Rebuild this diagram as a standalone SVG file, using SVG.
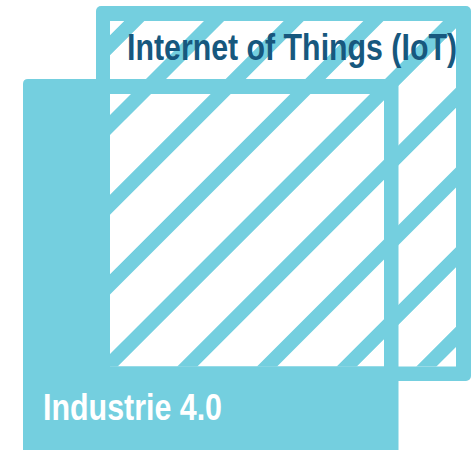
<svg xmlns="http://www.w3.org/2000/svg" width="471" height="450" viewBox="0 0 471 450">
  <defs>
    <style>
      .blue { fill: #74cfdf; }
      .hatch { stroke: #74cfdf; stroke-width: 14.2; fill: none; }
      .label { font-family: "Liberation Sans", Arial, sans-serif; font-weight: bold; font-size: 37px; }
    </style>
    <clipPath id="iotInner">
      <rect x="110" y="21" width="346" height="345.5"/>
    </clipPath>
  </defs>
  <g id="iot">
    <rect class="blue" x="96" y="6" width="375" height="375" rx="5"/>
    <rect x="110" y="21" width="346" height="345.5" fill="#ffffff"/>
    <g clip-path="url(#iotInner)">
      <path class="hatch" d="M-244.7,400 L155.3,0 M-165,400 L235,0 M-85.3,400 L314.7,0 M-5.6,400 L394.4,0 M74.1,400 L474.1,0 M153.8,400 L553.8,0 M233.5,400 L633.5,0 M313.2,400 L713.2,0 M392.9,400 L792.9,0"/>
    </g>
    <text class="label" x="127" y="60" fill="#17587e" textLength="330" lengthAdjust="spacingAndGlyphs">Internet of Things (IoT)</text>
  </g>
  <g id="industrie">
    <path class="blue" fill-rule="evenodd" d="M28,79 H393.5 Q398.5,79 398.5,84 V456 H23 V84 Q23,79 28,79 Z M110,94 V366.5 H384 V94 Z"/>
    <text class="label" x="43" y="420" font-size="36" fill="#ffffff" textLength="179" lengthAdjust="spacingAndGlyphs">Industrie 4.0</text>
  </g>
</svg>
